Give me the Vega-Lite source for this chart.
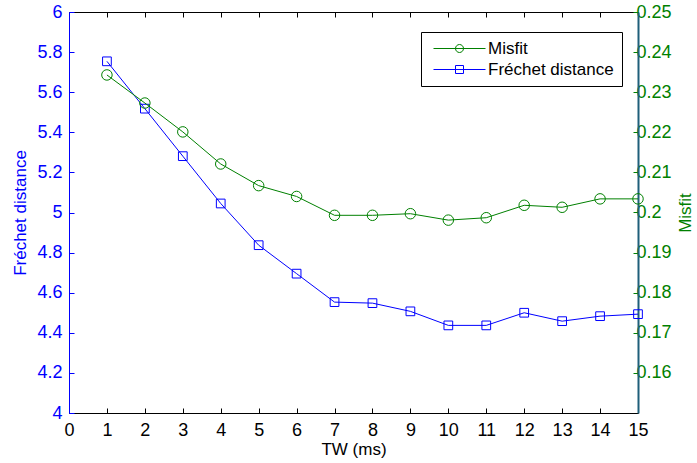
{
  "$schema": "https://vega.github.io/schema/vega-lite/v6.json",
  "autosize": {"type": "none"},
  "width": 569,
  "height": 401,
  "padding": {"left": 69, "top": 12, "right": 59, "bottom": 50},
  "background": "white",
  "config": {
    "view": {"stroke": null},
    "font": "Liberation Sans",
    "axis": {
      "labelFont": "Liberation Sans",
      "titleFont": "Liberation Sans",
      "labelFontSize": 18,
      "titleFontSize": 17,
      "titleFontWeight": "normal",
      "grid": false,
      "tickSize": -5,
      "labelPadding": 6,
      "labelFlush": false,
      "labelOverlap": false
    }
  },
  "data": {
    "values": [
      {"tw": 1, "frechet": 5.754, "misfit": 0.2343},
      {"tw": 2, "frechet": 5.518, "misfit": 0.2273},
      {"tw": 3, "frechet": 5.281, "misfit": 0.2201},
      {"tw": 4, "frechet": 5.045, "misfit": 0.2121},
      {"tw": 5, "frechet": 4.837, "misfit": 0.2067},
      {"tw": 6, "frechet": 4.695, "misfit": 0.2040},
      {"tw": 7, "frechet": 4.553, "misfit": 0.1993},
      {"tw": 8, "frechet": 4.548, "misfit": 0.1993},
      {"tw": 9, "frechet": 4.507, "misfit": 0.1997},
      {"tw": 10, "frechet": 4.437, "misfit": 0.1981},
      {"tw": 11, "frechet": 4.437, "misfit": 0.1987},
      {"tw": 12, "frechet": 4.500, "misfit": 0.2018},
      {"tw": 13, "frechet": 4.458, "misfit": 0.2013},
      {"tw": 14, "frechet": 4.483, "misfit": 0.2034},
      {"tw": 15, "frechet": 4.493, "misfit": 0.2034}
    ]
  },
  "layer": [
    {
      "encoding": {
        "x": {
          "field": "tw", "type": "quantitative",
          "scale": {"domain": [0, 15], "nice": false, "zero": false},
          "axis": {
            "orient": "bottom", "title": "TW (ms)",
            "values": [0,1,2,3,4,5,6,7,8,9,10,11,12,13,14,15],
            "domainColor": "black", "tickColor": "black", "labelColor": "black", "titleColor": "black",
            "labelPadding": 13, "titlePadding": 2
          }
        },
        "y": {
          "field": "frechet", "type": "quantitative",
          "scale": {"domain": [4, 6], "nice": false, "zero": false},
          "axis": {
            "orient": "left", "title": "Fréchet distance", "format": "~g",
            "values": [4, 4.2, 4.4, 4.6, 4.8, 5, 5.2, 5.4, 5.6, 5.8, 6],
            "domainColor": "#0000ff", "tickColor": "#0000ff", "labelColor": "#0000ff", "titleColor": "#0000ff",
            "labelPadding": 12, "titlePadding": 7
          }
        },
        "color": {
          "datum": "Fréchet distance",
          "scale": {"domain": ["Misfit", "Fréchet distance"], "range": ["#008000", "#0000ff"]},
          "legend": {
            "orient": "none", "legendX": 352, "legendY": 20, "title": null,
            "strokeColor": "black", "fillColor": "white", "padding": 8,
            "labelFont": "Liberation Sans", "labelFontSize": 17, "labelColor": "black",
            "symbolSize": 64, "symbolStrokeWidth": 1, "labelOffset": 42, "rowPadding": 3,
            "encode": {
              "symbols": {
                "update": {
                  "shape": {"signal": "datum.value === 'Misfit' ? 'M-1,0L12,0M4.5,0A1,1 0 1 1 6.5,0A1,1 0 1 1 4.5,0' : 'M-1,0L12,0M4.5,-1L6.5,-1L6.5,1L4.5,1Z'"},
                  "stroke": {"signal": "datum.value === 'Misfit' ? '#008000' : '#0000ff'"},
                  "fill": {"value": "transparent"},
                  "strokeWidth": {"value": 1},
                  "opacity": {"value": 1}
                }
              }
            }
          }
        }
      },
      "layer": [
        {"mark": {"type": "line", "strokeWidth": 1}},
        {"mark": {"type": "point", "shape": "square", "filled": false, "size": 76, "strokeWidth": 1, "opacity": 1}}
      ]
    },
    {
      "encoding": {
        "x": {
          "field": "tw", "type": "quantitative",
          "scale": {"domain": [0, 15], "nice": false, "zero": false},
          "axis": {
            "orient": "top", "title": null, "labels": false,
            "values": [0,1,2,3,4,5,6,7,8,9,10,11,12,13,14,15],
            "domainColor": "black", "tickColor": "black"
          }
        },
        "y": {
          "field": "misfit", "type": "quantitative",
          "scale": {"domain": [0.15, 0.25], "nice": false, "zero": false},
          "axis": {
            "orient": "right", "title": "Misfit", "format": "~g", "titleAngle": -90,
            "values": [0.16, 0.17, 0.18, 0.19, 0.2, 0.21, 0.22, 0.23, 0.24, 0.25],
            "domainColor": "#1f5f7a", "domainWidth": 2, "tickColor": "#008000", "labelColor": "#008000", "titleColor": "#008000",
            "labelPadding": 3, "titlePadding": 23
          }
        },
        "color": {"datum": "Misfit"}
      },
      "layer": [
        {"mark": {"type": "line", "strokeWidth": 1}},
        {"mark": {"type": "point", "shape": "circle", "filled": false, "size": 110, "strokeWidth": 1, "opacity": 1}}
      ]
    }
  ],
  "resolve": {"scale": {"y": "independent"}, "axis": {"x": "independent"}}
}
